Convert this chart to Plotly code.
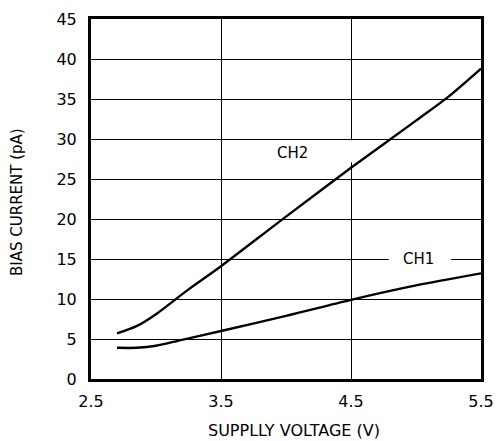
import plotly.graph_objects as go

ch2_x = [2.7, 2.85, 3.0, 3.25, 3.5, 4.0, 4.5, 5.0, 5.25, 5.5]
ch2_y = [5.7, 6.6, 8.1, 11.2, 14.1, 20.3, 26.4, 32.3, 35.3, 38.8]
ch1_x = [2.7, 2.85, 3.0, 3.2, 3.5, 4.0, 4.5, 5.0, 5.5]
ch1_y = [3.9, 3.9, 4.15, 4.9, 6.0, 7.9, 9.9, 11.7, 13.2]

x_ticks = [2.5, 3.5, 4.5, 5.5]
y_ticks = [0, 5, 10, 15, 20, 25, 30, 35, 40, 45]

FONT = "DejaVu Sans"
L, R, T, B = 91, 16, 19, 62
PW = 497 - L - R
PH = 441 - T - B

fig = go.Figure()
for xs, ys in [(ch2_x, ch2_y), (ch1_x, ch1_y)]:
    fig.add_trace(go.Scatter(x=xs, y=ys, mode="lines",
                             line=dict(color="black", width=2.4, shape="spline", smoothing=0.8),
                             showlegend=False, hoverinfo="skip"))

# masks behind labels (between gridlines and traces)
fig.add_shape(type="rect", x0=4.3, x1=4.58, y0=27.1, y1=29.85, xref="x", yref="y",
              fillcolor="white", line=dict(width=0), layer="between")
fig.add_shape(type="rect", x0=4.79, x1=5.27, y0=14.3, y1=15.7, xref="x", yref="y",
              fillcolor="white", line=dict(width=0), layer="between")

fig.add_annotation(x=4.05, y=28.3, text="CH2", showarrow=False,
                   font=dict(family=FONT, size=15, color="black"))
fig.add_annotation(x=5.02, y=15, text="CH1", showarrow=False,
                   font=dict(family=FONT, size=15, color="black"))

# axis titles placed as annotations
fig.add_annotation(xref="paper", yref="paper", x=(294 - L) / PW, y=-(430 - (T + PH)) / PH,
                   text="SUPPLLY VOLTAGE (V)", showarrow=False, xanchor="center", yanchor="middle",
                   font=dict(family=FONT, size=16, color="black"))
fig.add_annotation(xref="paper", yref="paper", x=-(L - 17) / PW, y=(T + PH - 202) / PH,
                   text="BIAS CURRENT (pA)", showarrow=False, textangle=-90,
                   xanchor="center", yanchor="middle",
                   font=dict(family=FONT, size=15, color="black"))

fig.update_layout(
    width=497, height=441,
    margin=dict(l=L, r=R, t=T, b=B, autoexpand=False),
    paper_bgcolor="white", plot_bgcolor="white",
    font=dict(family=FONT, size=16, color="black"),
    xaxis=dict(range=[2.5, 5.5], tickvals=x_ticks, ticktext=[str(v) for v in x_ticks],
               showgrid=True, gridcolor="black", gridwidth=1.4,
               showline=True, linecolor="black", linewidth=3, mirror=True,
               ticks="", ticklen=0, zeroline=False, automargin=False,
               ticklabelstandoff=6),
    yaxis=dict(range=[0, 45], tickvals=y_ticks,
               showgrid=True, gridcolor="black", gridwidth=1.4,
               showline=True, linecolor="black", linewidth=3, mirror=True,
               ticks="", ticklen=0, zeroline=False, automargin=False,
               ticklabelstandoff=8),
)

fig.write_html("out.html", config={"displayModeBar": False},
               post_script="document.body.style.margin='0';document.body.style.overflow='hidden';")
